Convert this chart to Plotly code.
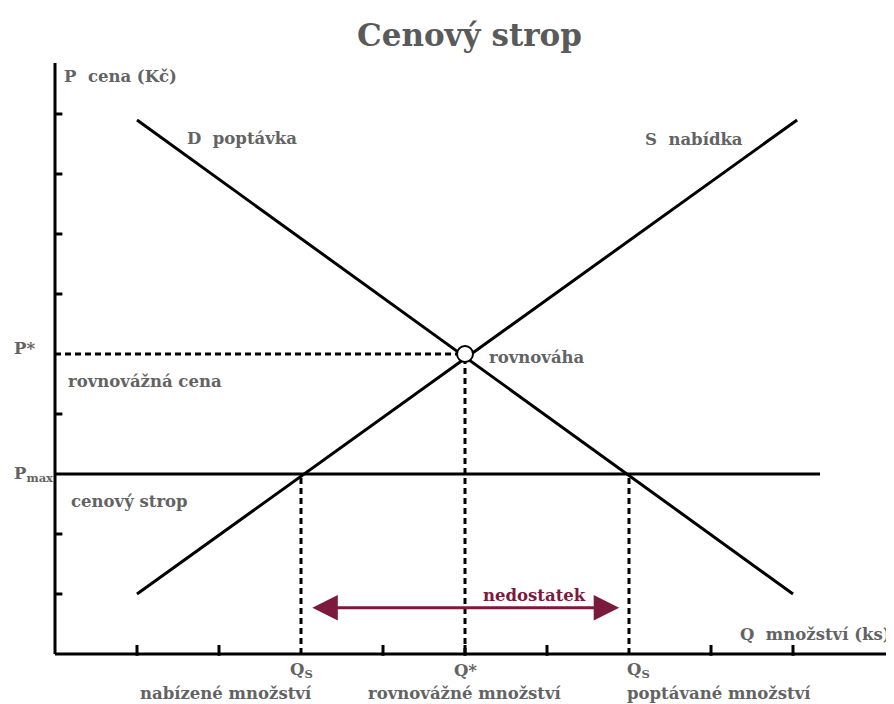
import plotly.graph_objects as go

# ---- data (in axis units) ----
q_ticks = [1, 2, 4, 5, 6, 8, 9]
p_ticks = [1, 2, 4, 6, 7, 8, 9]
demand_q = [1.0, 9.0]
demand_p = [8.9, 1.0]
supply_q = [1.0, 9.05]
supply_p = [1.0, 8.9]
p_star = 5.0
q_star = 5.0
p_max = 3.0
q_supplied = 3.0
q_demanded = 7.0
ceiling_end = 9.33
shortage_y = 0.77
shortage_x = [3.12, 6.88]

TXT = "#636363"
MAROON = "#7b1a3c"
FONT = "DejaVu Serif"
LS = 16.5

fig = go.Figure()

# demand & supply
fig.add_trace(go.Scatter(x=demand_q, y=demand_p, mode="lines",
                         line=dict(color="black", width=3), hoverinfo="skip"))
fig.add_trace(go.Scatter(x=supply_q, y=supply_p, mode="lines",
                         line=dict(color="black", width=3), hoverinfo="skip"))
# price ceiling
fig.add_trace(go.Scatter(x=[0, ceiling_end], y=[p_max, p_max], mode="lines",
                         line=dict(color="black", width=3), hoverinfo="skip"))
# dashed guides
dash = dict(color="black", width=3, dash="6px,4px")
fig.add_trace(go.Scatter(x=[0, q_star], y=[p_star, p_star], mode="lines", line=dash, hoverinfo="skip"))
fig.add_trace(go.Scatter(x=[q_star, q_star], y=[0, p_star], mode="lines", line=dash, hoverinfo="skip"))
fig.add_trace(go.Scatter(x=[q_supplied, q_supplied], y=[0, p_max], mode="lines", line=dash, hoverinfo="skip"))
fig.add_trace(go.Scatter(x=[q_demanded, q_demanded], y=[0, p_max], mode="lines", line=dash, hoverinfo="skip"))

# axes lines
fig.add_trace(go.Scatter(x=[0, 0], y=[0, 9.85], mode="lines",
                         line=dict(color="black", width=3), hoverinfo="skip"))
fig.add_trace(go.Scatter(x=[0, 10.22], y=[0, 0], mode="lines",
                         line=dict(color="black", width=3), hoverinfo="skip"))

# ticks
for q in q_ticks:
    fig.add_shape(type="line", x0=q, x1=q, y0=-0.03, y1=0.15,
                  line=dict(color="black", width=3))
for p in p_ticks:
    fig.add_shape(type="line", x0=0, x1=0.09, y0=p, y1=p,
                  line=dict(color="black", width=3))

# equilibrium marker
fig.add_trace(go.Scatter(x=[q_star], y=[p_star], mode="markers",
                         marker=dict(size=16, color="white",
                                     line=dict(color="black", width=2)),
                         hoverinfo="skip"))

# shortage arrow
fig.add_annotation(x=shortage_x[1], y=shortage_y, ax=shortage_x[0], ay=shortage_y,
                   xref="x", yref="y", axref="x", ayref="y",
                   showarrow=True, arrowhead=2, startarrowhead=2,
                   arrowside="end+start", arrowsize=1.7, startarrowsize=1.7,
                   arrowwidth=3, arrowcolor=MAROON, text="")


def label(x, y, text, size=LS, color=TXT, xanchor="left", yanchor="middle"):
    fig.add_annotation(x=x, y=y, xref="x", yref="y", text=text, showarrow=False,
                       xanchor=xanchor, yanchor=yanchor,
                       font=dict(family=FONT, size=size, color=color))


label(0.08, 9.62, "<b>P  cena (Kč)</b>")
label(1.58, 8.6, "<b>D  poptávka</b>")
label(7.17, 8.57, "<b>S  nabídka</b>")
label(-0.53, 5.1, "<b>P*</b>")
label(0.13, 4.55, "<b>rovnovážná cena</b>")
label(5.27, 4.95, "<b>rovnováha</b>")
label(-0.53, 3.0, "<b>P<sub>max</sub></b>")
label(0.17, 2.55, "<b>cenový strop</b>")
label(5.85, 0.98, "<b>nedostatek</b>", color=MAROON, xanchor="center")
label(10.22, 0.32, "<b>Q  množství (ks)</b>", xanchor="right")

label(q_supplied, -0.27, "<b>Q<sub>S</sub></b>", xanchor="center")
label(q_supplied + 0.16, -0.65, "<b>nabízené množství</b>", xanchor="right")
label(q_star, -0.27, "<b>Q*</b>", xanchor="center")
label(q_star, -0.65, "<b>rovnovážné množství</b>", xanchor="center")
label(q_demanded - 0.05, -0.27, "<b>Q<sub>S</sub></b>", xanchor="left")
label(q_demanded - 0.05, -0.65, "<b>poptávané množství</b>", xanchor="left")

# title
fig.add_annotation(x=5.05, y=10.32, xref="x", yref="y", text="<b>Cenový strop</b>",
                   showarrow=False, xanchor="center", yanchor="middle",
                   font=dict(family=FONT, size=31, color="#5a5a5a"))

# the page body adds an 8px offset; place the axes so the origin lands at (55, 654)
OFF = 8
fig.update_layout(
    width=894, height=704,
    margin=dict(l=0, r=0, t=0, b=0),
    paper_bgcolor="white", plot_bgcolor="white",
    showlegend=False,
    xaxis=dict(range=[-(55 - OFF) / 82, (894 - 55 + OFF) / 82], visible=False, fixedrange=True),
    yaxis=dict(range=[-(704 - 654 + OFF) / 60, (654 - OFF) / 60], visible=False, fixedrange=True),
)

fig.write_html("out.html")
